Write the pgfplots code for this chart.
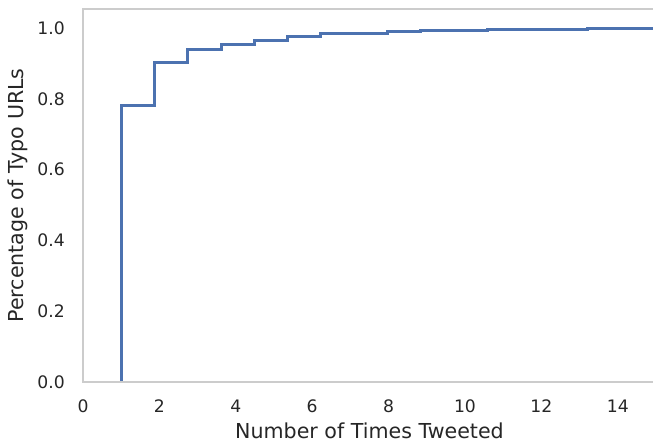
\documentclass[border=0pt]{standalone}
\usepackage{fontspec}
\setmainfont{DejaVu Sans}
\usepackage{pgfplots}
\pgfplotsset{compat=1.18}
\definecolor{sbblue}{HTML}{4C72B0}
\definecolor{spine}{HTML}{CCCCCC}
\definecolor{txt}{HTML}{262626}
\begin{document}
\begin{tikzpicture}
\begin{axis}[
  scale only axis,
  width=573bp, height=373bp,
  xmin=0, xmax=15, ymin=0, ymax=1.0537,
  xtick={0,2,4,6,8,10,12,14},
  ytick={0,0.2,0.4,0.6,0.8,1.0},
  yticklabel style={/pgf/number format/fixed, /pgf/number format/fixed zerofill, /pgf/number format/precision=1},
  /pgf/number format/assume math mode=true,
  major tick length=0pt,
  axis line style={draw=none},
  tick label style={font=\fontsize{17.2bp}{20bp}\selectfont, text=txt, inner sep=0pt},
  xticklabel style={anchor=north, yshift=-18bp},
  yticklabel style={anchor=east, xshift=-18bp},
  label style={font=\fontsize{20.6bp}{24bp}\selectfont, text=txt},
  xlabel={Number of Times Tweeted},
  ylabel={Percentage of Typo URLs},
  xlabel style={at={(rel axis cs:0.5,0)}, anchor=base, yshift=-56.5bp, inner sep=0pt},
  ylabel style={at={(rel axis cs:0,0.5)}, anchor=base, yshift=59bp, inner sep=0pt},
  clip=false,
]
\addplot[const plot, sbblue, line width=3bp, line join=miter] coordinates {
(1,0)
(1,0.780)
(1.871,0.902)
(2.743,0.940)
(3.614,0.954)
(4.486,0.964)
(5.357,0.975)
(6.229,0.985)
(7.100,0.985)
(7.971,0.989)
(8.843,0.992)
(9.714,0.993)
(10.586,0.995)
(11.457,0.996)
(12.329,0.997)
(13.200,0.998)
(14.071,0.999)
(15,0.999)
};
\draw[spine, line width=2bp] (rel axis cs:1,1) -- (rel axis cs:0,1) -- (rel axis cs:0,0) -- (rel axis cs:1,0);
\end{axis}
\pgfresetboundingbox
\useasboundingbox (-83bp,-60bp) rectangle (570bp,382bp);
\end{tikzpicture}
\end{document}
